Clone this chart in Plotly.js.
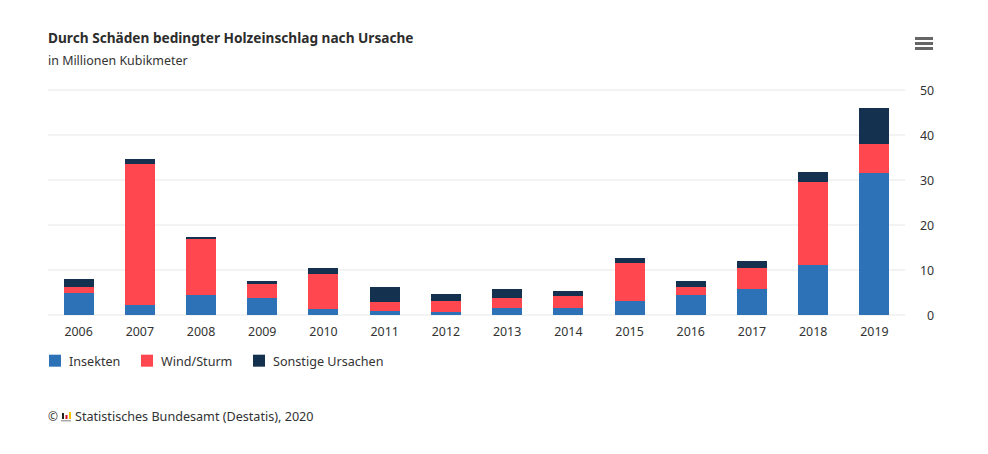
<!DOCTYPE html>
<html><head><meta charset="utf-8">
<script src="https://cdn.plot.ly/plotly-3.0.1.min.js"></script>
<style>html,body{margin:0;padding:0;background:#fff}</style></head>
<body><div id="chart" style="width:988px;height:454px"></div>
<script>
const years=['2006','2007','2008','2009','2010','2011','2012','2013','2014','2015','2016','2017','2018','2019'];
const insekten=[4.9,2.2,4.45,3.8,1.3,0.9,0.7,1.55,1.55,3.1,4.45,5.8,11.1,31.6];
const windSturm=[1.34,31.4,12.45,3.1,7.8,2.0,2.4,2.25,2.65,8.5,1.75,4.7,18.5,6.5];
const sonstige=[1.76,1.1,0.5,0.7,1.4,3.3,1.6,2.0,1.1,1.1,1.4,1.5,2.2,8.0];
const yTicks=[0,10,20,30,40,50];
const FONT='"Noto Sans", sans-serif';
const W=988,H=454;
const TXT=12.6;
const trace=(name,y,color)=>({type:'bar',name,x:years,y,marker:{color,line:{width:0}},hoverinfo:'x+y+name'});
const rect=(x0,y0,x1,y1,c)=>({type:'rect',xref:'paper',yref:'paper',x0:(x0-48)/857,x1:(x1-48)/857,y0:(315-y0)/227,y1:(315-y1)/227,fillcolor:c,line:{width:0},layer:'above'});
const note=(text,x,y,size,color,bold)=>({text:bold?'<b>'+text+'</b>':text,xref:'paper',yref:'paper',x:(x-50)/857,y:(315-y)/227,xanchor:'left',yanchor:'middle',showarrow:false,font:{family:FONT,size,color}});
Plotly.newPlot('chart',[trace('Insekten',insekten,'#2d72b6'),trace('Wind/Sturm',windSturm,'#ff474f'),trace('Sonstige Ursachen',sonstige,'#143250')],{
 width:W,height:H,barmode:'stack',bargap:0.51,paper_bgcolor:'#fff',plot_bgcolor:'#fff',
 margin:{l:48,r:83,t:88,b:139},font:{family:FONT,size:12,color:'#333'},
 xaxis:{type:'category',showgrid:false,zeroline:false,showline:false,ticks:'',tickfont:{size:12.4,color:'#333'},ticklabelstandoff:8},
 yaxis:{side:'right',range:[0,227/4.5],tickmode:'array',tickvals:yTicks,ticktext:yTicks.map(v=>v<10?'\u2007'+v:String(v)),showgrid:true,gridcolor:'#f3f3f3',gridwidth:2,zeroline:true,zerolinecolor:'#f3f3f3',zerolinewidth:2,showline:false,ticks:'',tickfont:{size:12.4,color:'#333'},ticklabelstandoff:14},
 showlegend:true,
 legend:{orientation:'h',x:-13/857,xanchor:'left',y:(315-346)/227,yanchor:'top',traceorder:'normal',font:{size:TXT,color:'#333'},itemclick:false,itemdoubleclick:false},
 annotations:[
  note('Durch Schäden bedingter Holzeinschlag nach Ursache',48,37,13.65,'#2d2d2d',true),
  note('in Millionen Kubikmeter',48,61,12.45,'#333'),
  note('©',48,416.5,12,'#333'),
  note('Statistisches Bundesamt (Destatis), 2020',75,416.5,TXT,'#333')
 ],
 shapes:[
  rect(915,37,933,40,'#666'),rect(915,42,933,45,'#666'),rect(915,47,933,50,'#666'),
  rect(62,413,64,419,'#222'),rect(65.5,415,67.5,419,'#d0102a'),rect(69,412,71,419,'#f5c400'),rect(61,420,71,421.5,'#aaa')
 ]
},{displayModeBar:false,responsive:false}).then(gd=>{
  // legend spacing of the reference: tighter swatch-to-text gap and item pitch
  const steps=[0,92,204];
  const items=gd.querySelectorAll('.legend .traces');
  items.forEach((el,i)=>{
    const m=/translate\(\s*([-\d.]+)[ ,]+([-\d.]+)/.exec(el.getAttribute('transform')||'');
    if(m) el.setAttribute('transform','translate('+(steps[i]+ +(items[0].dataset.x0||(items[0].dataset.x0=m[1])))+','+m[2]+')');
    const t=el.querySelector('.legendtext');
    if(t){t.setAttribute('x',+t.getAttribute('x')-6);}
    const toggle=el.querySelector('.legendtoggle'); if(toggle) toggle.setAttribute('pointer-events','none');
  });
  gd.querySelectorAll('.ytick text').forEach(t=>t.setAttribute('y',+t.getAttribute('y')+1));
});
</script></body></html>
